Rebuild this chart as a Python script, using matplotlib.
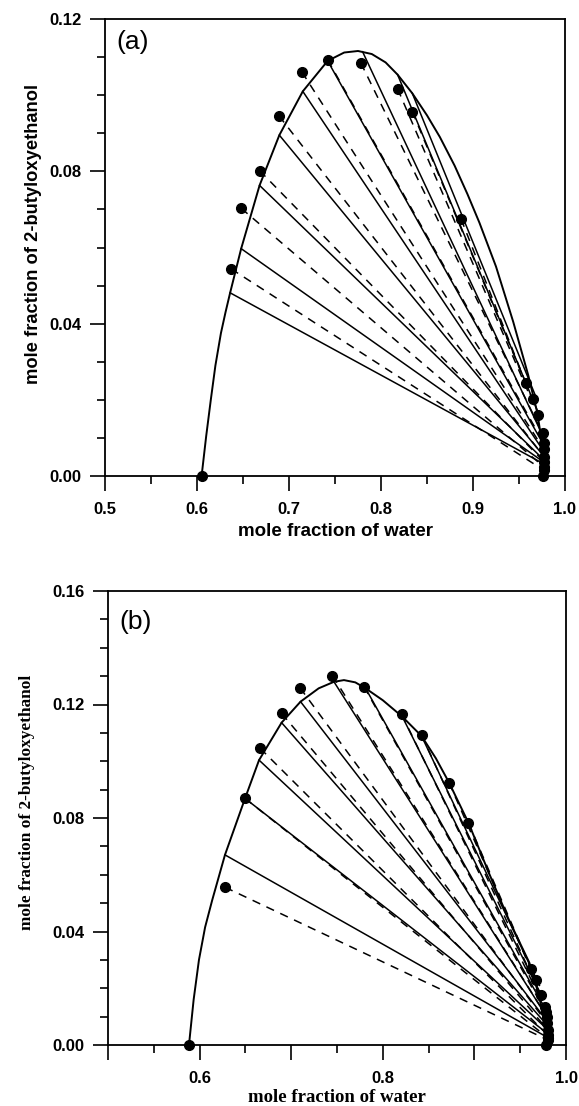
import matplotlib
matplotlib.use("Agg")
import matplotlib.pyplot as plt
from matplotlib.ticker import MultipleLocator, FixedLocator, FixedFormatter, FormatStrFormatter
from matplotlib.font_manager import FontProperties

# ---------------- Panel (a) data ----------------
a_binodal_x = [0.605, 0.610, 0.615, 0.620, 0.626, 0.631, 0.636, 0.648, 0.668, 0.6895, 0.715,
               0.742, 0.760, 0.775, 0.790, 0.805, 0.818, 0.834, 0.850, 0.864, 0.880, 0.894,
               0.907, 0.925, 0.9437, 0.960, 0.970, 0.975, 0.9765, 0.9768]
a_binodal_y = [0.000, 0.0105, 0.020, 0.029, 0.0375, 0.043, 0.0481, 0.0597, 0.0763, 0.0895, 0.101,
               0.109, 0.1112, 0.1116, 0.1108, 0.1086, 0.1054, 0.1005, 0.0947, 0.0890, 0.0815,
               0.0740, 0.0665, 0.0550, 0.0405, 0.0265, 0.0165, 0.0085, 0.003, 0.000]

a_calc_left_x = [0.636, 0.648, 0.668, 0.6895, 0.715, 0.742, 0.780, 0.818, 0.834]
a_calc_left_y = [0.0481, 0.0597, 0.0763, 0.0895, 0.101, 0.109, 0.1114, 0.1054, 0.1005]
a_calc_right_x = [0.976, 0.976, 0.976, 0.976, 0.976, 0.976, 0.975, 0.972, 0.968]
a_calc_right_y = [0.0033, 0.0038, 0.0045, 0.0055, 0.0068, 0.0085, 0.011, 0.016, 0.021]

a_exp_left_x = [0.637, 0.648, 0.668, 0.689, 0.714, 0.742, 0.778, 0.818, 0.834, 0.887]
a_exp_left_y = [0.0544, 0.0703, 0.0802, 0.0946, 0.1061, 0.1093, 0.1085, 0.1017, 0.0957, 0.0675]
a_exp_right_x = [0.977, 0.977, 0.977, 0.977, 0.977, 0.977, 0.9756, 0.9708, 0.9647, 0.9575]
a_exp_right_y = [0.0015, 0.0024, 0.0038, 0.0051, 0.0070, 0.0086, 0.0112, 0.0160, 0.0201, 0.0243]

a_binary_x = [0.605, 0.9765]
a_binary_y = [0.0, 0.0]

# ---------------- Panel (b) data ----------------
b_binodal_x = [0.5884, 0.5935, 0.5993, 0.606, 0.6138, 0.6277, 0.6496, 0.6649, 0.6895,
               0.7102, 0.730, 0.7467, 0.7576, 0.770, 0.7812, 0.800, 0.8213, 0.8423, 0.858, 0.8723,
               0.8934, 0.916, 0.9378, 0.960, 0.970, 0.976, 0.978, 0.978]
b_binodal_y = [0.000, 0.016, 0.030, 0.0415, 0.0511, 0.067, 0.0869, 0.1004, 0.1136,
               0.121, 0.1257, 0.128, 0.1286, 0.1278, 0.1257, 0.1215, 0.1157, 0.1089, 0.101, 0.0925,
               0.0784, 0.0605, 0.044, 0.029, 0.018, 0.009, 0.003, 0.000]

b_calc_left_x = [0.6277, 0.6496, 0.6649, 0.6895, 0.7102, 0.7467, 0.7812, 0.8213, 0.8423]
b_calc_left_y = [0.0670, 0.0869, 0.1004, 0.1136, 0.121, 0.128, 0.1257, 0.1157, 0.1089]
b_calc_right_x = [0.978, 0.978, 0.978, 0.978, 0.978, 0.977, 0.976, 0.974, 0.971]
b_calc_right_y = [0.0030, 0.0045, 0.0060, 0.0075, 0.0090, 0.011, 0.0135, 0.017, 0.021]

b_exp_left_x = [0.6277, 0.6496, 0.666, 0.6895, 0.7096, 0.745, 0.7795, 0.8206, 0.8423, 0.8723, 0.8934]
b_exp_left_y = [0.0556, 0.0869, 0.1046, 0.1169, 0.1259, 0.1302, 0.1263, 0.1165, 0.1093, 0.0925, 0.0784]
b_exp_right_x = [0.980, 0.980, 0.980, 0.980, 0.9795, 0.979, 0.978, 0.9767, 0.9722, 0.9668, 0.9618]
b_exp_right_y = [0.0018, 0.0026, 0.0035, 0.0053, 0.0076, 0.0100, 0.0115, 0.0133, 0.0176, 0.0229, 0.0268]

b_binary_x = [0.5884, 0.9778]
b_binary_y = [0.0, 0.0]

# ---------------- Figure ----------------
fig = plt.figure(figsize=(5.79, 11.06), dpi=100)
W, H = 579, 1106


def axes_px(l, t, r, b):
    return fig.add_axes([l / W, 1 - b / H, (r - l) / W, (b - t) / H])


def draw_panel(ax, bx, by, clx, cly, crx, cry, elx, ely, erx, ery, binx, biny):
    ax.plot(bx, by, color="black", lw=1.4, zorder=3, solid_joinstyle="round")
    for i in range(len(clx)):
        ax.plot([clx[i], crx[i]], [cly[i], cry[i]], color="black", lw=1.1, zorder=2)
    for i in range(len(elx)):
        ax.plot([elx[i], erx[i]], [ely[i], ery[i]], color="black", lw=1.1,
                dashes=(5.5, 4.5), zorder=2)
    ax.plot(elx, ely, "o", color="black", ms=7, zorder=4)
    ax.plot(erx, ery, "o", color="black", ms=7, zorder=4)
    ax.plot(binx, biny, "o", color="black", ms=7, zorder=4, clip_on=False)


tick_fp = FontProperties(family="Liberation Sans", weight="bold", size=12)

# Panel (a)
axa = axes_px(105, 19, 565, 476)
draw_panel(axa, a_binodal_x, a_binodal_y, a_calc_left_x, a_calc_left_y, a_calc_right_x,
           a_calc_right_y, a_exp_left_x, a_exp_left_y, a_exp_right_x, a_exp_right_y,
           a_binary_x, a_binary_y)
axa.set_xlim(0.5, 1.0)
axa.set_ylim(0.0, 0.12)
axa.xaxis.set_major_locator(MultipleLocator(0.1))
axa.xaxis.set_minor_locator(MultipleLocator(0.05))
axa.yaxis.set_major_locator(MultipleLocator(0.04))
axa.yaxis.set_minor_locator(MultipleLocator(0.01))
axa.xaxis.set_major_formatter(FormatStrFormatter("%.1f"))
axa.yaxis.set_major_formatter(FormatStrFormatter("%.2f"))
axa.set_xlabel("mole fraction of water", family="Liberation Sans", weight="bold",
               size=13.5, labelpad=4)
axa.set_ylabel("mole fraction of 2-butyloxyethanol", family="Liberation Sans",
               weight="bold", size=13.2)
axa.yaxis.set_label_coords(-0.138, 0.53)
axa.text(0.025, 0.975, "(a)", transform=axa.transAxes, family="Liberation Sans",
         size=19, ha="left", va="top")

# Panel (b)
axb = axes_px(108, 591, 566, 1045)
draw_panel(axb, b_binodal_x, b_binodal_y, b_calc_left_x, b_calc_left_y, b_calc_right_x,
           b_calc_right_y, b_exp_left_x, b_exp_left_y, b_exp_right_x, b_exp_right_y,
           b_binary_x, b_binary_y)
axb.set_xlim(0.5, 1.0)
axb.set_ylim(0.0, 0.16)
axb.xaxis.set_major_locator(FixedLocator([0.5, 0.6, 0.7, 0.8, 0.9, 1.0]))
axb.xaxis.set_major_formatter(FixedFormatter(["", "0.6", "", "0.8", "", "1.0"]))
axb.xaxis.set_minor_locator(MultipleLocator(0.05))
axb.yaxis.set_major_locator(MultipleLocator(0.04))
axb.yaxis.set_minor_locator(MultipleLocator(0.01))
axb.yaxis.set_major_formatter(FormatStrFormatter("%.2f"))
axb.set_xlabel("mole fraction of water", family="Liberation Serif", weight="bold",
               size=13.5, labelpad=2)
axb.set_ylabel("mole fraction of 2-butyloxyethanol", family="Liberation Serif",
               weight="bold", size=12.4)
axb.yaxis.set_label_coords(-0.16, 0.535)
axb.text(0.025, 0.958, "(b)", transform=axb.transAxes, family="Liberation Sans",
         size=19, ha="left", va="top")

for ax in (axa, axb):
    for s in ax.spines.values():
        s.set_linewidth(1.3)
    ax.tick_params(which="major", direction="out", length=11, width=1.2, pad=6)
    ax.tick_params(which="minor", direction="out", length=6, width=1.2)
    ax.tick_params(axis="x", which="major", pad=8)
    for lab in ax.get_xticklabels() + ax.get_yticklabels():
        lab.set_fontproperties(tick_fp)

fig.savefig("out.png", dpi=100)
